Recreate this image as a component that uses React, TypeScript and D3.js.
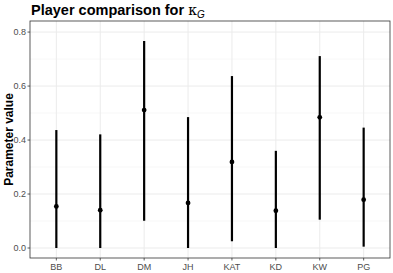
import * as d3 from "d3";

const players = ["BB", "DL", "DM", "JH", "KAT", "KD", "KW", "PG"];
const estimates = [0.154, 0.14, 0.511, 0.167, 0.319, 0.138, 0.484, 0.179];
const lowers = [0.0, 0.0, 0.101, 0.0, 0.025, 0.0, 0.105, 0.005];
const uppers = [0.437, 0.421, 0.767, 0.485, 0.637, 0.36, 0.711, 0.446];
const yTicks = [0, 0.2, 0.4, 0.6, 0.8];
const yMinor = [0.1, 0.3, 0.5, 0.7];

const W = 393;
const H = 273;
const margin = { top: 21, right: 3, bottom: 15, left: 30 };

export default function App() {
  const innerW = W - margin.left - margin.right;
  const innerH = H - margin.top - margin.bottom;

  const x = d3
    .scalePoint<string>()
    .domain(players)
    .range([0, innerW])
    .padding(0.6);

  const y = d3.scaleLinear().domain([-0.037, 0.841]).range([innerH, 0]);

  const font = "'Liberation Sans', Arial, Helvetica, sans-serif";

  return (
    <svg
      width={W}
      height={H}
      style={{ position: "absolute", left: 0, top: 0, background: "#fff" }}
      fontFamily={font}
    >
      <text x={31} y={14.5} fontSize={14.5} fontWeight="bold" fill="#000">
        Player comparison for{" "}
        <tspan fontFamily="'DejaVu Serif', serif" fontWeight="normal" fontSize={14}>
          κ
        </tspan>
        <tspan fontStyle="italic" fontWeight="normal" fontSize={10} dy={3}>
          G
        </tspan>
      </text>

      <g transform={`translate(${margin.left},${margin.top})`}>
        {/* grid */}
        {yMinor.map((t) => (
          <line key={"m" + t} x1={0} x2={innerW} y1={y(t)} y2={y(t)} stroke="#f2f2f2" strokeWidth={0.6} />
        ))}
        {yTicks.map((t) => (
          <line key={"g" + t} x1={0} x2={innerW} y1={y(t)} y2={y(t)} stroke="#ebebeb" strokeWidth={1} />
        ))}
        {players.map((p) => (
          <line key={"v" + p} x1={x(p)} x2={x(p)} y1={0} y2={innerH} stroke="#ebebeb" strokeWidth={1} />
        ))}

        {/* error bars */}
        {players.map((p, i) => (
          <g key={p}>
            <line
              x1={x(p)}
              x2={x(p)}
              y1={y(lowers[i])}
              y2={y(uppers[i])}
              stroke="#000"
              strokeWidth={2.2}
            />
            <circle cx={x(p)} cy={y(estimates[i])} r={2.4} fill="#000" />
          </g>
        ))}

        {/* panel border */}
        <rect x={0} y={0} width={innerW} height={innerH} fill="none" stroke="#333333" strokeWidth={0.8} />

        {/* y axis */}
        {yTicks.map((t) => (
          <g key={"yt" + t} transform={`translate(0,${y(t)})`}>
            <line x1={-2.5} x2={0} stroke="#333333" strokeWidth={0.8} />
            <text x={-4} dy="0.35em" textAnchor="end" fontSize={9} fill="#4d4d4d">
              {d3.format(".1f")(t)}
            </text>
          </g>
        ))}

        {/* x axis */}
        {players.map((p) => (
          <g key={"xt" + p} transform={`translate(${x(p)},${innerH})`}>
            <line y1={0} y2={2.5} stroke="#333333" strokeWidth={0.8} />
            <text y={11.5} textAnchor="middle" fontSize={9} fill="#4d4d4d">
              {p}
            </text>
          </g>
        ))}
      </g>

      <text
        transform={`translate(12.5,${margin.top + innerH / 2}) rotate(-90)`}
        textAnchor="middle"
        fontSize={12}
        fontWeight="bold"
        fill="#000"
      >
        Parameter value
      </text>
    </svg>
  );
}
